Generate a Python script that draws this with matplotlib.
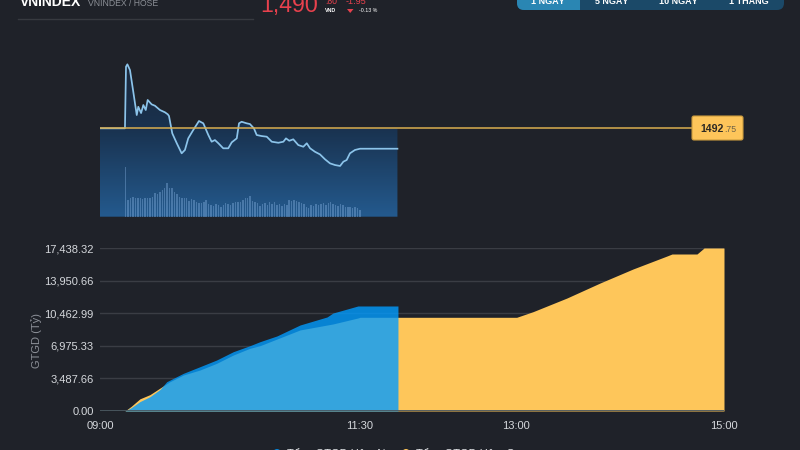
import matplotlib
matplotlib.use('Agg')
import matplotlib.pyplot as plt
import numpy as np
from matplotlib.colors import LinearSegmentedColormap
from matplotlib.patches import FancyBboxPatch, Polygon, Rectangle, Circle
from matplotlib.lines import Line2D
import matplotlib.ticker as mticker

plt.rcParams['font.family'] = ['Liberation Sans', 'DejaVu Sans']

BG = '#1f2229'

# header values
ref_price = 1492.75
last_price = 1490.80
change = -1.95
change_pct = -0.13

# intraday price, minutes since 09:00
price_t = [0, 14.4, 15.0, 15.8, 17.3, 19.2, 21.2, 22.1, 23.7, 25.0, 26.4, 27.5, 29.8, 31.7, 34.6,
           37.5, 39.1, 39.8, 41.7, 44.3, 47.1, 49.0, 50.9, 53.8, 57.1, 59.6, 62.5, 64.4, 66.3, 68.3,
           71.1, 74.0, 76.0, 78.9, 80.2, 81.7, 84.6, 86.5, 88.8, 90.4, 93.3, 96.2, 99.1, 102.9, 105.8,
           107.3, 109.2, 111.5, 114.4, 117.3, 119.3, 121.2, 124.0, 126.9, 129.8, 132.7, 135.6, 138.5,
           140.4, 142.3, 144.2, 147.1, 150.0, 171.6]
price_v = [1492.75, 1492.75, 1498.64, 1498.87, 1498.32, 1496.25, 1494.02, 1494.81, 1494.21, 1494.98,
           1494.50, 1495.46, 1495.04, 1494.91, 1494.50, 1494.28, 1494.09, 1493.93, 1492.27, 1491.32,
           1490.36, 1490.68, 1491.79, 1492.59, 1493.45, 1493.23, 1492.11, 1491.47, 1491.63, 1491.32,
           1490.84, 1490.84, 1491.41, 1491.79, 1493.23, 1493.38, 1493.23, 1493.16, 1492.75, 1492.11,
           1492.01, 1491.95, 1491.47, 1491.37, 1491.47, 1491.79, 1491.56, 1491.70, 1491.15, 1490.99,
           1491.32, 1490.84, 1490.51, 1490.26, 1489.79, 1489.40, 1489.24, 1489.15, 1489.56, 1489.72,
           1490.36, 1490.68, 1490.80, 1490.80]

# volume bars (million shares), evenly spaced from first to last
vol_first, vol_last = 14.8, 150.0
volumes = [15.0, 5.0, 5.5, 6.0, 5.5, 5.7, 5.5, 5.3, 5.7, 5.5, 5.5, 6.0, 7.0, 6.7, 7.5,
           8.0, 8.5, 10.0, 8.7, 8.5, 7.5, 6.7, 6.0, 5.7, 5.7,
           5.5, 4.8, 5.3, 5.0, 4.5, 4.0, 4.2, 4.5, 5.0, 3.7,
           3.5, 3.3, 3.7, 3.5, 3.0, 3.5, 4.0, 3.7, 3.5, 4.0,
           4.5, 4.3, 4.5, 5.0, 5.5, 5.7, 6.3, 4.7, 4.5, 4.0,
           3.3, 3.7, 4.0, 3.5, 4.5, 3.7, 4.5, 3.5, 3.7, 3.3,
           3.8, 3.5, 5.0, 4.7, 5.0, 4.7, 4.5, 4.0, 3.7, 3.0,
           2.5, 3.5, 3.3, 3.7, 3.5, 3.7, 4.0, 3.5, 4.0, 4.5,
           3.7, 3.5, 3.3, 3.7, 3.5, 3.0, 2.8, 3.0, 2.5, 2.8,
           2.5, 2.0]

# cumulative traded value (ty VND)
today_t = [0, 14.4, 18.0, 23.0, 28.8, 34.6, 38.5, 48.1, 57.7, 67.3, 76.9, 86.5, 92.3, 102.1,
           115.4, 131.0, 134.4, 148.8, 171.9]
today_v = [0, 0, 350, 1000, 1530, 2300, 3135, 4030, 4740, 5456, 6345, 6986, 7414, 8030,
           9200, 10060, 10480, 11235, 11235]
yest_t = [0, 14.4, 18.0, 23.0, 28.8, 34.6, 40.0, 48.1, 57.7, 67.3, 76.9, 86.5, 92.3, 102.1,
          115.4, 134.4, 148.8, 150.0, 240.4, 249.8, 269.4, 288.5, 307.5, 327.1, 330.0, 344.4,
          348.5, 360.0]
yest_v = [0, 0, 500, 1300, 1750, 2450, 3100, 3850, 4386, 5100, 5990, 6708, 6986, 7700,
          8670, 9310, 9950, 10024, 10024, 10623, 12089, 13693, 15191, 16582, 16796, 16796,
          17438.32, 17438.32]

time_ticks = [0, 150, 240, 360]
time_labels = ['09:00', '11:30', '13:00', '15:00']
range_buttons = ['1 NGÀY', '5 NGÀY', '10 NGÀY', '1 THÁNG']

W, H = 800, 450
fig = plt.figure(figsize=(8, 4.5), dpi=100, facecolor=BG)


def box(l, t, r, b):
    return [l / W, 1 - b / H, (r - l) / W, (b - t) / H]


def ftext(x, y, s, **kw):
    fig.text(x / W, 1 - y / H, s, **kw)


def inch(x, y):
    return (x / 100, (H - y) / 100)


# ---- header ----
ftext(20, 6, 'VNINDEX', color='white', fontsize=10, fontweight='bold', va='baseline')
ftext(88, 6, 'VNINDEX / HOSE', color='#8b8f96', fontsize=6.2, va='baseline')
fig.add_artist(Line2D([18 / W, 253 / W], [1 - 19 / H, 1 - 19 / H], color='#373a40', lw=1))

red = '#e8414d'
whole, dec = f'{last_price:,.2f}'.split('.')
ftext(260, 12.3, whole, color=red, fontsize=16.7, va='baseline')
ftext(325, 4.3, '.' + dec, color=red, fontsize=6.2, va='baseline')
ftext(346, 4.3, f'{change:.2f}', color=red, fontsize=6.6, va='baseline')
ftext(325, 11, 'VND', color='white', fontsize=3.8, fontweight='bold', va='center')
ftext(359, 11, f'{change_pct:.2f} %', color='white', fontsize=3.8, va='center')
fig.patches.append(Polygon([inch(347, 9), inch(353.5, 9), inch(350.2, 13)], closed=True,
                           facecolor=red, edgecolor='none', transform=fig.dpi_scale_trans))

# range buttons
fig.patches.append(FancyBboxPatch(inch(517, 10), 2.67, 0.3, boxstyle='round,pad=0,rounding_size=0.07',
                                  fc='#1b4968', ec='none', transform=fig.dpi_scale_trans))
fig.patches.append(FancyBboxPatch(inch(517, 10), 0.63, 0.3, boxstyle='round,pad=0,rounding_size=0.07',
                                  fc='#2a86b3', ec='none', transform=fig.dpi_scale_trans))
fig.patches.append(Rectangle(inch(565, 10), 0.15, 0.3, fc='#2a86b3', ec='none',
                             transform=fig.dpi_scale_trans))
for cx, lab in zip([548, 612, 678, 749], range_buttons):
    ftext(cx, 3.5, lab, color='white', fontsize=6.5, fontweight='bold', ha='center', va='baseline')

# ---- intraday price panel ----
ylo, yhi = 1484.30, 1500.24
ax1 = fig.add_axes(box(100, 50, 724, 216.7))
ax1.set_xlim(0, 360)
ax1.set_ylim(ylo, yhi)
ax1.axis('off')

cmap = LinearSegmentedColormap.from_list('pfill', [(0, '#1c2838'), (0.25, '#1b2c43'),
                                                   (0.47, '#19324f'), (1, '#245a8e')])
grad = np.linspace(0, 1, 256).reshape(-1, 1)
im = ax1.imshow(grad, extent=[0, 360, ylo, yhi], aspect='auto', cmap=cmap, origin='upper', zorder=1)
upper = np.maximum(price_v, ref_price)
verts = [(price_t[0], ylo)] + list(zip(price_t, upper)) + [(price_t[-1], ylo)]
clip = Polygon(verts, closed=True, facecolor='none', edgecolor='none', transform=ax1.transData)
ax1.add_patch(clip)
im.set_clip_path(clip)

ax1.plot(price_t, price_v, color='#8cc4ea', lw=1.25, zorder=3)
ax1.axhline(ref_price, xmin=0, xmax=(692 - 100) / 624, color='#d9ae4f', lw=1.1, zorder=4)

axv = ax1.twinx()
axv.set_ylim(0, 50)
axv.axis('off')
vol_t = np.linspace(vol_first, vol_last, len(volumes))
axv.bar(vol_t, volumes, width=0.85, color='#8ab6e6', alpha=0.38, lw=0, zorder=2)

# reference price tag
fig.patches.append(FancyBboxPatch(inch(692, 140), 0.51, 0.24, boxstyle='round,pad=0,rounding_size=0.02',
                                  fc='#fdc55a', ec='#c99a3d', lw=0.8, transform=fig.dpi_scale_trans))
rw, rd = f'{ref_price:.2f}'.split('.')
ftext(700, 128.5, rw, color='#2d2a24', fontsize=7.6, fontweight='bold', va='center')
ftext(724, 129, '.' + rd, color='#6d6247', fontsize=6.3, va='center')

# ---- cumulative value panel ----
y_max = max(yest_v)
ax2 = fig.add_axes(box(100, 248, 724, 411))
ax2.set_facecolor('none')
ax2.set_xlim(0, 360)
ax2.set_ylim(0, y_max)
for s in ax2.spines.values():
    s.set_visible(False)

ax2.fill_between(yest_t, yest_v, 0, color='#fec65a', lw=0, zorder=2)
ax2.fill_between(today_t, today_v, 0, color='#029cff', alpha=0.8, lw=0, zorder=3)
ax2.axhline(0, color='#4a5860', lw=1.3, zorder=5)

ax2.set_yticks(np.linspace(0, y_max, 6))
ax2.yaxis.set_major_formatter(mticker.FuncFormatter(lambda v, p: f'{v:,.2f}'))
ax2.yaxis.grid(True, color='#3a3d44', lw=1)
ax2.set_axisbelow(True)
ax2.set_xticks(time_ticks, time_labels)
ax2.tick_params(axis='both', length=0, colors='#d5d8dc', labelsize=8)
ax2.tick_params(axis='y', pad=4.5)
ax2.tick_params(axis='x', pad=7)
ftext(37, 340, 'GTGD (Tỷ)', color='#8d9199', fontsize=8, rotation=90, ha='center', va='center')

# legend, mostly below the frame
for cx, col, lab in [(277, '#0884d5', 'Tổng GTGD Hôm Nay'), (406, '#fec65a', 'Tổng GTGD Hôm Qua')]:
    fig.patches.append(Circle(inch(cx, 453), 0.04, fc=col, ec='none', transform=fig.dpi_scale_trans))
    ftext(cx + 10, 453.8, lab, color='#e0e2e5', fontsize=8, va='center')

fig.savefig('out.png', dpi=100, facecolor=BG)
